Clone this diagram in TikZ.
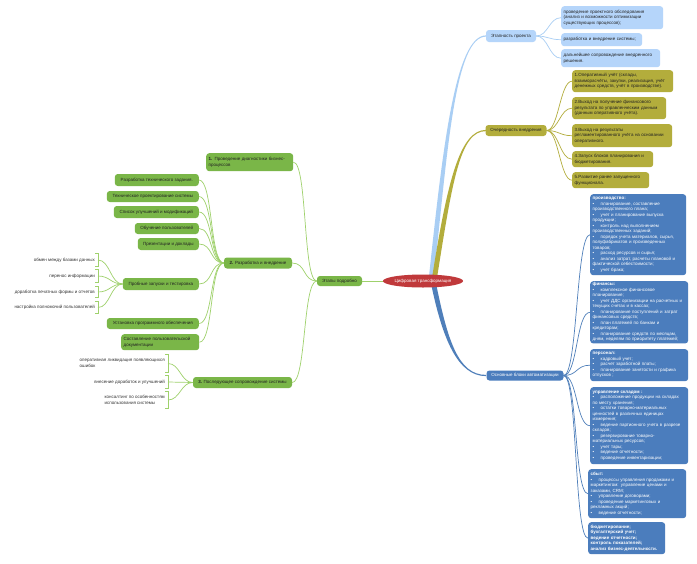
\documentclass[tikz,border=0pt]{standalone}
\usepackage{fontspec}
\setmainfont{Liberation Sans}
\usetikzlibrary{shapes.geometric}
\definecolor{lbfill}{HTML}{B5D5FA}
\definecolor{lbline}{HTML}{A9CEF4}
\definecolor{olfill}{HTML}{B3AD3C}
\definecolor{olline}{HTML}{B3AD3C}
\definecolor{dbfill}{HTML}{4B7DBD}
\definecolor{dbline}{HTML}{4F7FBA}
\definecolor{gfill}{HTML}{7AB648}
\definecolor{gline}{HTML}{9FD16C}
\definecolor{redc}{HTML}{C0393B}
\definecolor{txt}{HTML}{222222}
\definecolor{leaftxt}{HTML}{333333}
\newcommand\myfs{\fontsize{4.5}{5.5}\selectfont}
\newcommand\myb{\makebox[8pt][l]{•}}
\begin{document}
\begin{tikzpicture}[x=1pt,y=-1pt,
  base/.style={font=\myfs, text=txt, inner xsep=2.5pt, inner ysep=1.5pt, rounded corners=3pt},
  lbbox/.style={base, fill=lbfill, anchor=north west, align=left},
  olbox/.style={base, fill=olfill, anchor=north west, align=left},
  dbbox/.style={base, fill=dbfill, text=white, anchor=north west, align=left},
  gboxl/.style={base, fill=gfill, anchor=north west, align=left},
  lbmid/.style={base, fill=lbfill, align=center},
  olmid/.style={base, fill=olfill, align=center},
  dbmid/.style={base, fill=dbfill, text=white, align=center},
  gmid/.style={base, fill=gfill, align=center},
  gright/.style={base, fill=gfill, align=center, anchor=east},
  leaf/.style={font=\myfs, text=leaftxt, inner xsep=3pt, inner ysep=1pt, align=left, anchor=east},
  ctr/.style={ellipse, fill=redc, text=white, font=\myfs, minimum width=75pt, minimum height=13pt, inner sep=0pt},
  lbl/.style={draw=lbline, line width=0.7pt},
  oll/.style={draw=olline, line width=0.7pt},
  dbl/.style={draw=dbline, line width=0.7pt},
  grl/.style={draw=gline, line width=0.7pt},
  brk/.style={draw=gline, line width=0.7pt}
]
\useasboundingbox[fill=white] (0,0) rectangle (697,563);

% main branches (tapered)
\fill[lbline] (428.5,281) .. controls (442.5,150) and (455,35.4) .. (486,35.4) -- (486,36.6) .. controls (455,36.6) and (447.5,150) .. (433.5,281) -- cycle;
\fill[olline] (431.5,281) .. controls (447.5,180) and (460,129.9) .. (486,129.9) -- (486,131.1) .. controls (460,131.1) and (452.5,180) .. (436.5,281) -- cycle;
\fill[dbline] (430.5,281) .. controls (442.5,340) and (458,376.1) .. (486,376.1) -- (486,374.9) .. controls (458,374.9) and (447.5,340) .. (435.5,281) -- cycle;

% central
\coordinate (cc) at (423,281);
\node[gmid, minimum width=45pt, minimum height=10pt] (ep) at (339.5,281) {Этапы подробно};
\draw[draw=gline, line width=1pt] (cc) -- (ep.east);
\node[ctr] (ct) at (cc) {Цифровая трансформация};

% right: Этапность
\node[lbmid, minimum width=50pt, minimum height=12pt] (et) at (511,36) {Этапность проекта};
\node[lbbox, text width=97pt, minimum height=23pt] (l1) at (561,6) {проведение проектного обследования\\(анализ и возможности оптимизации\\существующих процессов);};
\node[lbbox, text width=76pt, minimum height=13pt] (l2) at (561,33) {разработка и внедрение системы;};
\node[lbbox, text width=94pt, minimum height=18pt] (l3) at (561,49) {дальнейшее сопровождение внедренного\\решения.};
\foreach \n in {l1,l2,l3} \draw[lbl] (et.east) .. controls +(12,0) and +(-12,0) .. (\n.west);

% right: Очередность
\node[olmid, minimum width=61pt, minimum height=11pt] (oc) at (516,130.5) {Очередность внедрения};
\node[olbox, text width=96pt, minimum height=22pt] (o1) at (572,70) {1.Оперативный учёт (склады,\\взаиморасчёты, закупки, реализация, учёт\\денежных средств, учёт в производстве).};
\node[olbox, text width=89pt, minimum height=22pt] (o2) at (572,97) {2.Выход на получение финансового\\результата по управленческим данным\\(данным оперативного учёта).};
\node[olbox, text width=95pt, minimum height=23pt] (o3) at (572,124) {3.Выход на результаты\\регламентированного учёта на основании\\оперативного.};
\node[olbox, text width=76pt, minimum height=16pt] (o4) at (572,151) {4.Запуск блоков планирования и\\бюджетирования.};
\node[olbox, text width=72pt, minimum height=16pt] (o5) at (572,172) {5.Развитие ранее запущенного\\функционала.};
\foreach \n in {o1,o2,o3,o4,o5} \draw[oll] (oc.east) .. controls +(12,0) and +(-12,0) .. (\n.west);

% right: Основные блоки
\node[dbmid, minimum width=77pt, minimum height=10pt] (ob) at (525,375.5) {Основные блоки автоматизации};
\node[dbbox, text width=91pt, minimum height=81pt] (d1) at (590,194) {\textbf{производство:}\\\myb планирование, составление\\производственного плана;\\\myb учет и планирование выпуска\\продукции;\\\myb контроль над выполнением\\производственных заданий;\\\myb порядок учета материалов, сырья,\\полуфабрикатов и произведенных\\товаров;\\\myb расход ресурсов и сырья;\\\myb анализ затрат, расчеты плановой и\\фактической себестоимости;\\\myb учет брака;};
\node[dbbox, text width=93pt, minimum height=62pt] (d2) at (590,281) {\textbf{финансы:}\\\myb комплексное финансовое\\планирование;\\\myb учет ДДС организации на расчетных и\\текущих счетах и в кассах;\\\myb планирование поступлений и затрат\\финансовых средств;\\\myb план платежей по банкам и\\кредиторам;\\\myb планирование средств по месяцам,\\дням, неделям по приоритету платежей;};
\node[dbbox, text width=93pt, minimum height=32pt] (d3) at (590,349) {\textbf{персонал:}\\\myb кадровый учет;\\\myb расчет заработной платы;\\\myb планирование занятости и графика\\отпусков ;};
\node[dbbox, text width=93pt, minimum height=77pt] (d4) at (590,387) {\textbf{управление складом :}\\\myb расположение продукции на складах\\по месту хранения;\\\myb остатки товарно-материальных\\ценностей в различных единицах\\измерения;\\\myb ведение партионного учета в разрезе\\складов;\\\myb резервирование товарно-\\материальных ресурсов;\\\myb учет тары;\\\myb ведение отчетности;\\\myb проведение инвентаризации;};
\node[dbbox, text width=93pt, minimum height=49pt] (d5) at (588,469) {\textbf{сбыт:}\\\myb процессы управления продажами и\\маркетингом: управление ценами и\\заказами, CRM;\\\myb управление договорами;\\\myb проведение маркетинговых и\\рекламных акций;\\\myb ведение отчетности;};
\node[dbbox, text width=72pt, minimum height=32pt, font=\myfs\bfseries] (d6) at (588,522) {бюджетирование;\\бухгалтерский учет;\\ведение отчетности;\\контроль показателей;\\анализ бизнес-деятельности.};
\foreach \n in {d1,d2,d3,d4,d5,d6} \draw[dbl] (ob.east) .. controls +(14,0) and +(-14,0) .. (\n.west);

% left: stages
\node[gboxl, text width=82pt, minimum height=18pt] (g1) at (206,153) {\textbf{1.} Проведение диагностики бизнес-\\процессов};
\node[gmid, minimum width=68pt, minimum height=11pt] (g2) at (258,263) {\textbf{2.} Разработка и внедрение};
\node[gmid, minimum width=99pt, minimum height=11pt] (g3) at (242.5,382.5) {\textbf{3.} Последующее сопровождение системы};
\foreach \n in {g1,g2,g3} \draw[grl] (ep.west) .. controls +(-14,0) and +(14,0) .. (\n.east);

% children of 2
\node[gright, minimum width=84pt, minimum height=12pt] (ga) at (199,180) {Разработка технического задания.};
\node[gright, minimum width=92pt, minimum height=11pt] (gb) at (199,196.5) {Техническое проектирование системы};
\node[gright, minimum width=85pt, minimum height=12pt] (gc) at (199,212) {Список улучшений и модификаций};
\node[gright, minimum width=64pt, minimum height=11pt] (gd) at (199,228.5) {Обучение пользователей};
\node[gright, minimum width=61pt, minimum height=12pt] (ge) at (199,244) {Презентации и доклады};
\node[gright, minimum width=76pt, minimum height=12pt] (gf) at (199,284) {Пробные запуски и тестировка};
\node[gright, minimum width=92pt, minimum height=11pt] (gg) at (199,323.5) {Установка программного обеспечения};
\node[gboxl, text width=73pt, minimum height=16pt] (gh) at (121,334) {Составление пользовательской\\документации};
\foreach \n in {ga,gb,gc,gd,ge,gf,gg,gh} \draw[grl] (g2.west) .. controls +(-14,0) and +(14,0) .. (\n.east);

% leaves of testing
\node[leaf, minimum height=12pt] (t1) at (98,260) {обмен между базами данных};
\node[leaf, minimum height=12pt] (t2) at (98,276) {перенос информации};
\node[leaf, minimum height=11pt] (t3) at (98,292) {доработка печатных формы и отчетов};
\node[leaf, minimum height=12pt] (t4) at (98,307.5) {настройка полномочий пользователей};
\foreach \n in {t1,t2,t3,t4} {
  \draw[brk] ([xshift=-3pt]\n.north east) -- (\n.north east) -- (\n.south east) -- ([xshift=-3pt]\n.south east);
  \draw[grl] (gf.west) .. controls +(-12,0) and +(12,0) .. (\n.east);
}

% leaves of 3
\node[leaf, minimum height=17pt] (s1) at (168,363.5) {оперативная ликвидация появляющихся\\ошибок};
\node[leaf, minimum height=12pt] (s2) at (168,382) {внесение доработок и улучшений};
\node[leaf, minimum height=16pt] (s3) at (168,400) {консалтинг по особенностям\\использования системы};
\foreach \n in {s1,s2,s3} {
  \draw[brk] ([xshift=-3pt]\n.north east) -- (\n.north east) -- (\n.south east) -- ([xshift=-3pt]\n.south east);
  \draw[grl] (g3.west) .. controls +(-12,0) and +(12,0) .. (\n.east);
}
\end{tikzpicture}
\end{document}
